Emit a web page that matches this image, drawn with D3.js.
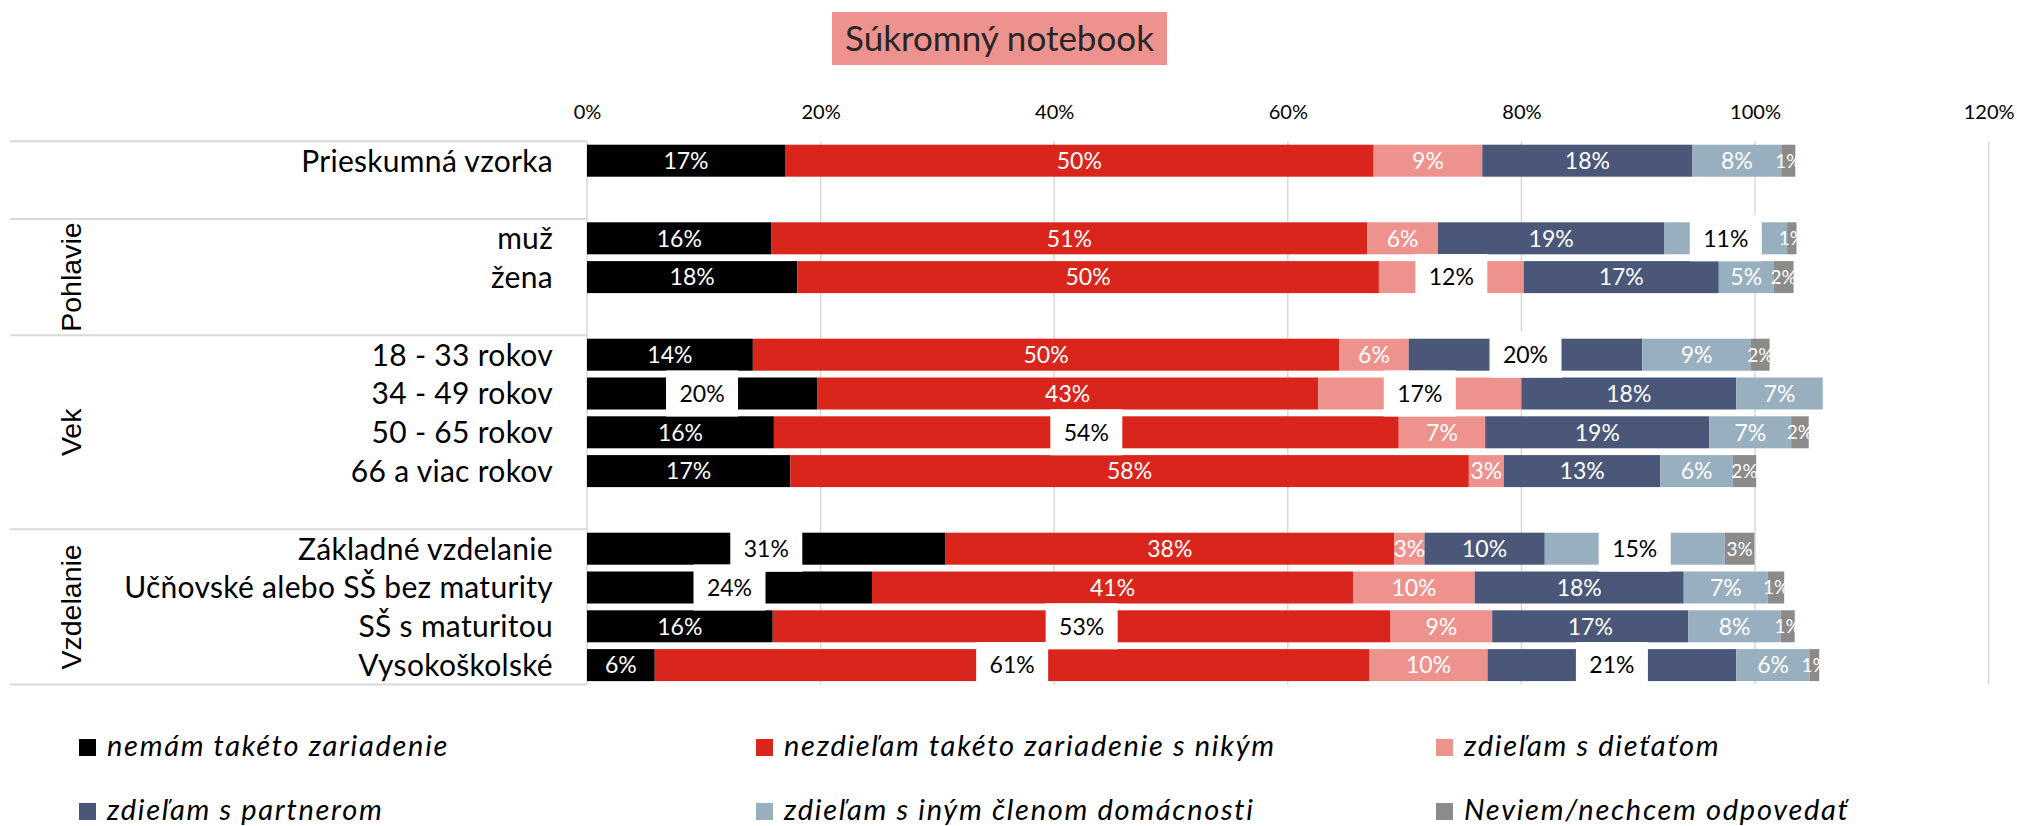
<!DOCTYPE html>
<html><head><meta charset="utf-8">
<script src="https://cdn.jsdelivr.net/npm/d3@7"></script>
<style>body{margin:0;background:#fff;} svg{display:block}</style>
</head><body>
<svg id="chart" width="2017" height="826"></svg>
<script>
// ---- data ----
const title = "Súkromný notebook";
const rowLabels = ["Prieskumná vzorka", "", "muž", "žena", "", "18 - 33 rokov", "34 - 49 rokov", "50 - 65 rokov", "66 a viac rokov", "", "Základné vzdelanie", "Učňovské alebo SŠ bez maturity", "SŠ s maturitou", "Vysokoškolské"];
const groupNames = ["", "Pohlavie", "Vek", "Vzdelanie"];
const groupFirstRow = [0, 2, 5, 10];
const seriesNames = ["nemám takéto zariadenie", "nezdieľam takéto zariadenie s nikým", "zdieľam s dieťaťom", "zdieľam s partnerom", "zdieľam s iným členom domácnosti", "Neviem/nechcem odpovedať"];
const seriesColors = ["#000000", "#DA251D", "#EE928E", "#4A5779", "#98AFC0", "#8C8B8A"];
const nemam     = [16.95, null, 15.8, 18.0, null, 14.2, 19.7, 16.0, 17.4, null, 30.7, 24.4, 15.9, 5.8];
const nezdielam = [50.4, null, 51.0, 49.8, null, 50.2, 42.9, 53.5, 58.1, null, 38.4, 41.2, 52.9, 61.2];
const dieta     = [9.3, null, 6.05, 12.4, null, 5.95, 17.4, 7.4, 3.0, null, 2.6, 10.4, 8.7, 10.1];
const partner   = [18.0, null, 19.4, 16.7, null, 20.0, 18.4, 19.2, 13.4, null, 10.3, 17.9, 16.8, 21.3];
const iny       = [7.6, null, 10.5, 4.7, null, 9.3, 7.4, 7.0, 6.2, null, 15.4, 7.2, 7.9, 6.3];
const neviem    = [1.2, null, 0.8, 1.7, null, 1.6, 0, 1.5, 2.0, null, 2.55, 1.4, 1.2, 0.8];
const tickValues = [0, 20, 40, 60, 80, 100, 120];
// labels shown in white boxes: [row index, series index]
const boxedLabels = [[2,4],[3,2],[5,3],[6,0],[6,2],[7,1],[10,0],[10,4],[11,0],[12,1],[13,1],[13,3]];

// ---- chart ----
const svg = d3.select("#chart");
const seriesValues = [nemam, nezdielam, dieta, partner, iny, neviem];
const x = d3.scaleLinear().domain([0, 120]).range([587, 587 + 1168 * 1.2]);
const y = d3.scaleBand().domain(d3.range(rowLabels.length)).range([141.3, 684.5])
  .paddingInner(0.175).paddingOuter(0.0875);
const bw = y.bandwidth();
const lato = "Lato, 'Open Sans', sans-serif";

// title
svg.append("rect").attr("x", 832).attr("y", 12).attr("width", 335).attr("height", 53).attr("fill", "#EE928F");
svg.append("text").attr("x", 999.5).attr("y", 51).attr("text-anchor", "middle")
  .style("font-family", lato).style("font-size", "35px").attr("fill", "#262626").text(title);

// gridlines
svg.append("g").selectAll("line").data(tickValues).join("line")
  .attr("x1", d => x(d)).attr("x2", d => x(d))
  .attr("y1", y.range()[0]).attr("y2", y.range()[1])
  .attr("stroke", "#D9D9D9").attr("stroke-width", 1.5);

// top axis labels
const ax = svg.append("g").attr("transform", "translate(0,118.5)")
  .call(d3.axisTop(x).tickValues(tickValues).tickFormat(d => d + "%").tickSize(0).tickPadding(0));
ax.select(".domain").remove();
ax.selectAll("text").style("font-family", lato).style("font-size", "20px").attr("fill", "#000");

// category separators
const boundaries = groupFirstRow.concat([rowLabels.length]);
svg.append("g").selectAll("line").data(boundaries).join("line")
  .attr("x1", 10).attr("x2", x(0))
  .attr("y1", b => y.range()[0] + b * y.step()).attr("y2", b => y.range()[0] + b * y.step())
  .attr("stroke", "#D9D9D9").attr("stroke-width", 2);

// row labels
svg.append("g").selectAll("text").data(rowLabels).join("text")
  .attr("x", 553).attr("y", (d, i) => y(i) + bw / 2).attr("dy", "0.36em")
  .attr("text-anchor", "end").style("font-family", lato).style("font-size", "30px")
  .style("letter-spacing", "0.3px").attr("fill", "#000").text(d => d);

// group labels
groupNames.forEach((g, i) => {
  if (!g) return;
  const y0 = y.range()[0] + boundaries[i] * y.step();
  const y1 = y.range()[0] + boundaries[i + 1] * y.step();
  svg.append("text").attr("transform", `translate(81,${(y0 + y1) / 2}) rotate(-90)`)
    .attr("text-anchor", "middle").style("font-family", "'Liberation Sans', Arial, sans-serif")
    .style("font-size", "28.5px").attr("fill", "#000").text(g);
});

// stacked bars
const table = rowLabels.map((r, i) => {
  const o = { row: i };
  seriesNames.forEach((k, j) => o[k] = seriesValues[j][i]);
  return o;
}).filter(d => nemam[d.row] != null);
const stacked = d3.stack().keys(seriesNames).value((d, k) => d[k] || 0)(table);

const layers = svg.append("g").selectAll("g").data(stacked).join("g")
  .attr("fill", (d, i) => seriesColors[i]);
layers.selectAll("rect").data(d => d).join("rect")
  .attr("x", d => x(d[0])).attr("width", d => x(d[1]) - x(d[0]))
  .attr("y", d => y(d.data.row)).attr("height", bw);

const isBoxed = (row, s) => boxedLabels.some(b => b[0] === row && b[1] === s);

// in-bar labels
stacked.forEach((layer, s) => {
  svg.append("g").selectAll("text")
    .data(layer.filter(d => (d[1] - d[0]) > 0 && !isBoxed(d.data.row, s)))
    .join("text")
    .attr("x", d => x((d[0] + d[1]) / 2)).attr("y", d => y(d.data.row) + bw / 2)
    .attr("dy", "0.36em").attr("text-anchor", "middle")
    .style("font-family", lato).style("font-size", s === 5 ? "19px" : "23px")
    .attr("fill", "#fff").text(d => Math.round(d[1] - d[0]) + "%");
});

// boxed labels
const boxW = 72, boxH = 46;
boxedLabels.forEach(([row, s]) => {
  const d = stacked[s].find(e => e.data.row === row);
  const cx = x((d[0] + d[1]) / 2), cy = y(row) + bw / 2;
  svg.append("rect").attr("x", cx - boxW / 2).attr("y", cy - boxH / 2)
    .attr("width", boxW).attr("height", boxH).attr("fill", "#fff");
  svg.append("text").attr("x", cx).attr("y", cy).attr("dy", "0.36em").attr("text-anchor", "middle")
    .style("font-family", lato).style("font-size", "23px").attr("fill", "#000")
    .text(Math.round(d[1] - d[0]) + "%");
});

// legend
const legX = [79, 756, 1436], legY = [739, 803];
const leg = svg.append("g").selectAll("g").data(seriesNames).join("g")
  .attr("transform", (d, i) => `translate(${legX[i % 3]},${legY[Math.floor(i / 3)]})`);
leg.append("rect").attr("width", 17).attr("height", 17).attr("fill", (d, i) => seriesColors[i]);
leg.append("text").attr("x", 28).attr("y", 16.5)
  .style("font-family", lato).style("font-style", "italic").style("font-size", "29px")
  .style("letter-spacing", "1.7px").attr("fill", "#000").text(d => d);
</script>
</body></html>
